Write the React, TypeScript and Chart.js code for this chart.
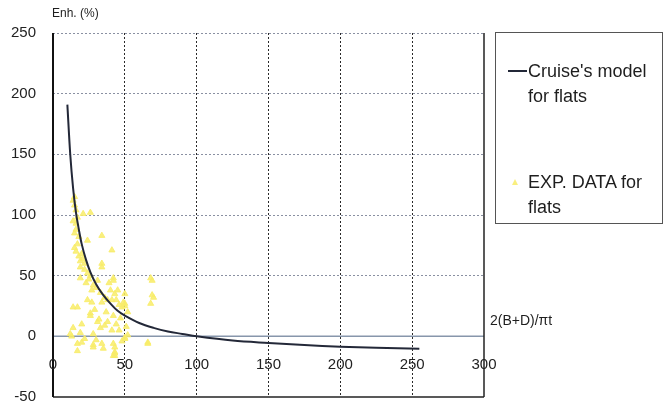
import React, { useEffect, useRef } from "react";
import { Chart, registerables } from "chart.js";

Chart.register(...registerables);

const xTicks = [0, 50, 100, 150, 200, 250, 300];
const yTicks = [-50, 0, 50, 100, 150, 200, 250];

const modelX = [10, 12, 14, 16, 18, 20, 23, 26, 30, 35, 40, 45, 50, 60, 70, 80, 90, 100, 125, 150, 175, 200, 225, 255];
const modelY = [191, 150, 122, 102, 88, 76, 63, 53, 43, 34, 27, 21, 17, 11, 7, 4, 2, 0, -3.5, -5.5, -7.2, -8.5, -9.4, -10.2];

const expX = [15, 14, 15, 16, 17, 16, 21, 26, 24, 34, 15, 41, 19, 22, 34, 19, 34, 26, 31, 42, 42, 69, 68, 40, 43, 50, 69, 70, 33, 34, 50, 50, 68, 17, 14, 26, 26, 42, 52, 36, 14, 19, 33, 28, 41, 52, 50, 50, 17, 28, 34, 42, 66, 66, 43, 28, 17, 43, 43, 42, 43, 16, 18, 17, 20, 21, 22, 24, 25, 28, 30, 36, 38, 44, 46, 48, 45, 47, 12, 20, 38, 30, 22, 46, 48, 31, 14, 15, 16, 18, 19, 23, 27, 29, 32, 37, 39, 41, 44, 49, 51, 35, 24, 13, 20, 27];
const expY = [115, 112, 108, 104, 98, 93, 101, 102, 79, 83, 73, 71, 62, 60, 60, 57, 57, 50, 46, 48, 46, 46, 48, 38, 35, 35, 34, 32, 36, 28, 27, 25, 27, 24, 24, 17, 19, 17, 20, 9, 7, 3, 7, 2, 5, 1, -2, -1, -6, -7, -6, -6, -6, -5, -9, -9, -12, -13, -14, -16, -16, 88, 82, 76, 68, 64, 55, 52, 47, 42, 40, 32, 30, 30, 26, 24, 38, 15, 2, 10, 12, -3, -2, 5, -4, 12, 95, 85, 70, 66, 48, 44, 38, 22, 14, 20, 44, 30, 10, 28, 8, -10, 30, 0, -5, 28];

const modelLabel = "Cruise's model for flats";
const expLabel = "EXP. DATA for flats";
const yTitle = "Enh. (%)";
const xTitle = "2(B+D)/πt";

const FONT = "'Liberation Sans', Arial, sans-serif";
const YELLOW = "rgba(248,236,105,0.85)";

const framePlugin = {
  id: "frame",
  beforeDatasetsDraw(chart: any) {
    const { ctx, chartArea, scales } = chart;
    const xs = scales.x;
    const ys = scales.y;
    ctx.save();
    ctx.setLineDash([]);
    const y0 = ys.getPixelForValue(0);
    ctx.strokeStyle = "#8796ab";
    ctx.lineWidth = 1.5;
    ctx.beginPath();
    ctx.moveTo(chartArea.left, y0);
    ctx.lineTo(chartArea.right, y0);
    ctx.stroke();
    const yb = ys.getPixelForValue(-50);
    ctx.strokeStyle = "#222";
    ctx.lineWidth = 1.5;
    ctx.beginPath();
    ctx.moveTo(chartArea.left, yb);
    ctx.lineTo(chartArea.right, yb);
    ctx.stroke();
    const xr = xs.getPixelForValue(300);
    ctx.beginPath();
    ctx.moveTo(xr, chartArea.top);
    ctx.lineTo(xr, chartArea.bottom);
    ctx.stroke();
    const xl = xs.getPixelForValue(0);
    ctx.strokeStyle = "#111";
    ctx.lineWidth = 2;
    ctx.beginPath();
    ctx.moveTo(xl, chartArea.top);
    ctx.lineTo(xl, chartArea.bottom);
    ctx.stroke();
    // x tick labels, placed below the y = 0 axis line
    ctx.fillStyle = "#222";
    ctx.font = "15px " + FONT;
    ctx.textAlign = "center";
    ctx.textBaseline = "middle";
    xTicks.forEach((v) => {
      ctx.fillText(String(v), xs.getPixelForValue(v), y0 + 29);
    });
    ctx.restore();
  },
};

export default function App() {
  const ref = useRef<HTMLCanvasElement | null>(null);

  useEffect(() => {
    document.body.style.margin = "0";
    const canvas = ref.current;
    if (!canvas) return;
    const chart = new Chart(canvas, {
      type: "scatter",
      data: {
        datasets: [
          {
            type: "line",
            label: modelLabel,
            data: modelX.map((x, i) => ({ x, y: modelY[i] })),
            borderColor: "#232838",
            borderWidth: 2,
            pointRadius: 0,
            tension: 0.35,
            fill: false,
            order: 0,
          },
          {
            type: "scatter",
            label: expLabel,
            data: expX.map((x, i) => ({ x, y: expY[i] })),
            pointStyle: "triangle",
            pointRadius: 3.5,
            backgroundColor: YELLOW,
            borderColor: YELLOW,
            borderWidth: 1,
            order: 1,
          },
        ],
      } as any,
      options: {
        animation: false,
        responsive: false,
        devicePixelRatio: 1,
        layout: { padding: { left: 0, top: 33, right: 187, bottom: 12 } },
        plugins: {
          legend: { display: false },
          tooltip: { enabled: false },
        },
        scales: {
          x: {
            type: "linear",
            position: "bottom",
            min: 0,
            max: 300,
            afterBuildTicks: (s: any) => {
              s.ticks = xTicks.map((v) => ({ value: v }));
            },
            afterFit: (s: any) => {
              s.height = 0;
              s.paddingLeft = 0;
              s.paddingRight = 0;
            },
            ticks: { display: false },
            grid: {
              drawTicks: false,
              color: (c: any) =>
                c.tick && (c.tick.value === 0 || c.tick.value === 300) ? "rgba(0,0,0,0)" : "#2a2a2a",
              lineWidth: 1,
            },
            border: { display: false, dash: [2, 2] },
          },
          y: {
            type: "linear",
            min: -50,
            max: 250,
            afterBuildTicks: (s: any) => {
              s.ticks = yTicks.map((v) => ({ value: v }));
            },
            afterFit: (s: any) => {
              s.width = 53;
              s.paddingTop = 0;
              s.paddingBottom = 0;
            },
            ticks: {
              padding: 17,
              color: "#222",
              font: { family: FONT, size: 15 },
            },
            grid: {
              drawTicks: false,
              color: (c: any) =>
                c.tick && (c.tick.value === 0 || c.tick.value === -50) ? "rgba(0,0,0,0)" : "#8a90a2",
              lineWidth: 1,
            },
            border: { display: false, dash: [2, 2] },
          },
        },
      } as any,
      plugins: [framePlugin],
    });
    return () => chart.destroy();
  }, []);

  const text: React.CSSProperties = {
    position: "absolute",
    fontFamily: FONT,
    color: "#1e1e1e",
    whiteSpace: "nowrap",
  };

  return (
    <div style={{ position: "relative", width: 671, height: 409, background: "#fff", overflow: "hidden" }}>
      <canvas ref={ref} width={671} height={409} style={{ position: "absolute", left: 0, top: 0 }} />
      <div style={{ ...text, left: 52, top: 6, fontSize: 12 }}>{yTitle}</div>
      <div style={{ ...text, left: 490, top: 312, fontSize: 14 }}>{xTitle}</div>
      <div
        style={{
          position: "absolute",
          left: 495,
          top: 32,
          width: 168,
          height: 192,
          border: "1.5px solid #555",
          boxSizing: "border-box",
        }}
      />
      <div style={{ position: "absolute", left: 508, top: 70, width: 19, height: 2, background: "#232838" }} />
      <div style={{ ...text, left: 528, top: 59, fontSize: 18, lineHeight: "25px" }}>
        Cruise's model
        <br />
        for flats
      </div>
      <div
        style={{
          position: "absolute",
          left: 512,
          top: 179,
          width: 0,
          height: 0,
          borderLeft: "3px solid transparent",
          borderRight: "3px solid transparent",
          borderBottom: "6px solid " + YELLOW,
        }}
      />
      <div style={{ ...text, left: 528, top: 170, fontSize: 18, lineHeight: "25px" }}>
        EXP. DATA for
        <br />
        flats
      </div>
    </div>
  );
}
